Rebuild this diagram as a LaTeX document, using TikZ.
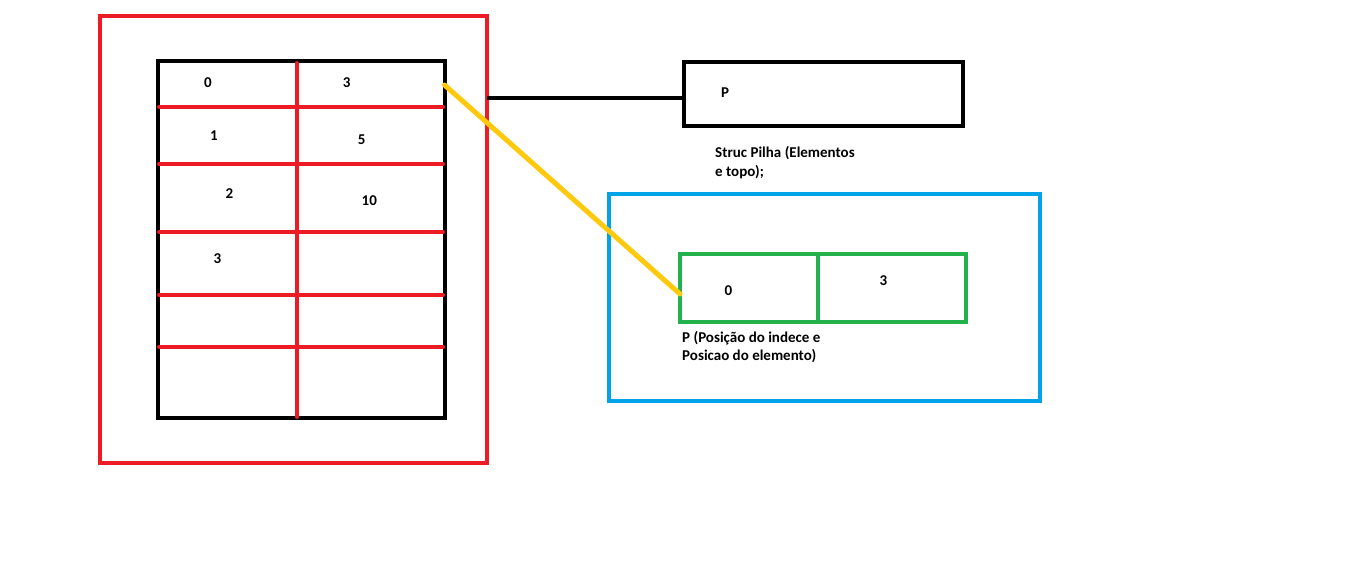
\documentclass[tikz,border=0pt]{standalone}
\usepackage{fontspec}
\setmainfont{Carlito}
\definecolor{pred}{HTML}{ED1C24}
\definecolor{pblue}{HTML}{00A2E8}
\definecolor{pgreen}{HTML}{22B14C}
\definecolor{pyellow}{HTML}{FFC90E}
\begin{document}
\begin{tikzpicture}[x=1pt,y=-1pt,
  box/.style={draw, line width=4pt, rectangle, inner sep=0pt, outer sep=0pt},
  redline/.style={pred, line width=4pt, line cap=round},
  lbl/.style={font=\bfseries\fontsize{15}{18.4}\selectfont, inner sep=0pt, text=black},
]
\useasboundingbox[fill=white] (0,0) rectangle (1358,561);
% left structure
\node[box, draw=pred, minimum width=387pt, minimum height=447pt] (outer) at (293.5,239.5) {};
\node[box, draw=black, minimum width=287pt, minimum height=357pt] (table) at (301,239.5) {};
\foreach \yy/\nm in {106.7/r1,164.3/r2,232.3/r3,295.3/r4,346.7/r5}{
  \coordinate (\nm w) at (159,\yy);
  \coordinate (\nm e) at (443,\yy);
  \draw[redline] (\nm w) -- (\nm e);
}
\coordinate (vtop) at (296.7,63);
\coordinate (vbot) at (296.7,417);
\draw[redline] (vtop) -- (vbot);
\node[lbl] (a0) at (208,83) {0};
\node[lbl] (b0) at (346.7,83) {3};
\node[lbl] (a1) at (214,135.7) {1};
\node[lbl] (b1) at (361.7,139.3) {5};
\node[lbl] (a2) at (229.3,193.3) {2};
\node[lbl] (b2) at (369.3,200.7) {10};
\node[lbl] (a3) at (217.3,258.3) {3};
% right structures
\node[box, draw=black, minimum width=279pt, minimum height=64.5pt] (pbox) at (823.5,94.25) {};
\node[lbl] (plbl) at (725,92.7) {P};
\node[lbl, anchor=west, align=left] (struc) at (715,162.5) {Struc Pilha (Elementos\\e topo);};
\node[box, draw=pblue, minimum width=431pt, minimum height=206.5pt] (blue) at (824.5,297.25) {};
\node[box, draw=pgreen, minimum width=286pt, minimum height=68pt] (green) at (823,288) {};
\coordinate (gtop) at (818.3,254);
\coordinate (gbot) at (818.3,322);
\draw[pgreen, line width=4pt] (gtop) -- (gbot);
\node[lbl] (g0) at (728.3,291) {0};
\node[lbl] (g1) at (883.3,281) {3};
\node[lbl, anchor=west, align=left] (plong) at (682,347.2) {P (Posição do indece e\\Posicao do elemento)};
% connectors
\draw[line width=4pt] ([yshift=-3.75pt]pbox.west) -- ([yshift=-3.75pt]pbox.west -| outer.east);
\draw[pyellow, line width=5pt, line cap=round] ([yshift=-24pt]table.north east) -- ([yshift=-6pt]green.west);
\end{tikzpicture}
\end{document}
